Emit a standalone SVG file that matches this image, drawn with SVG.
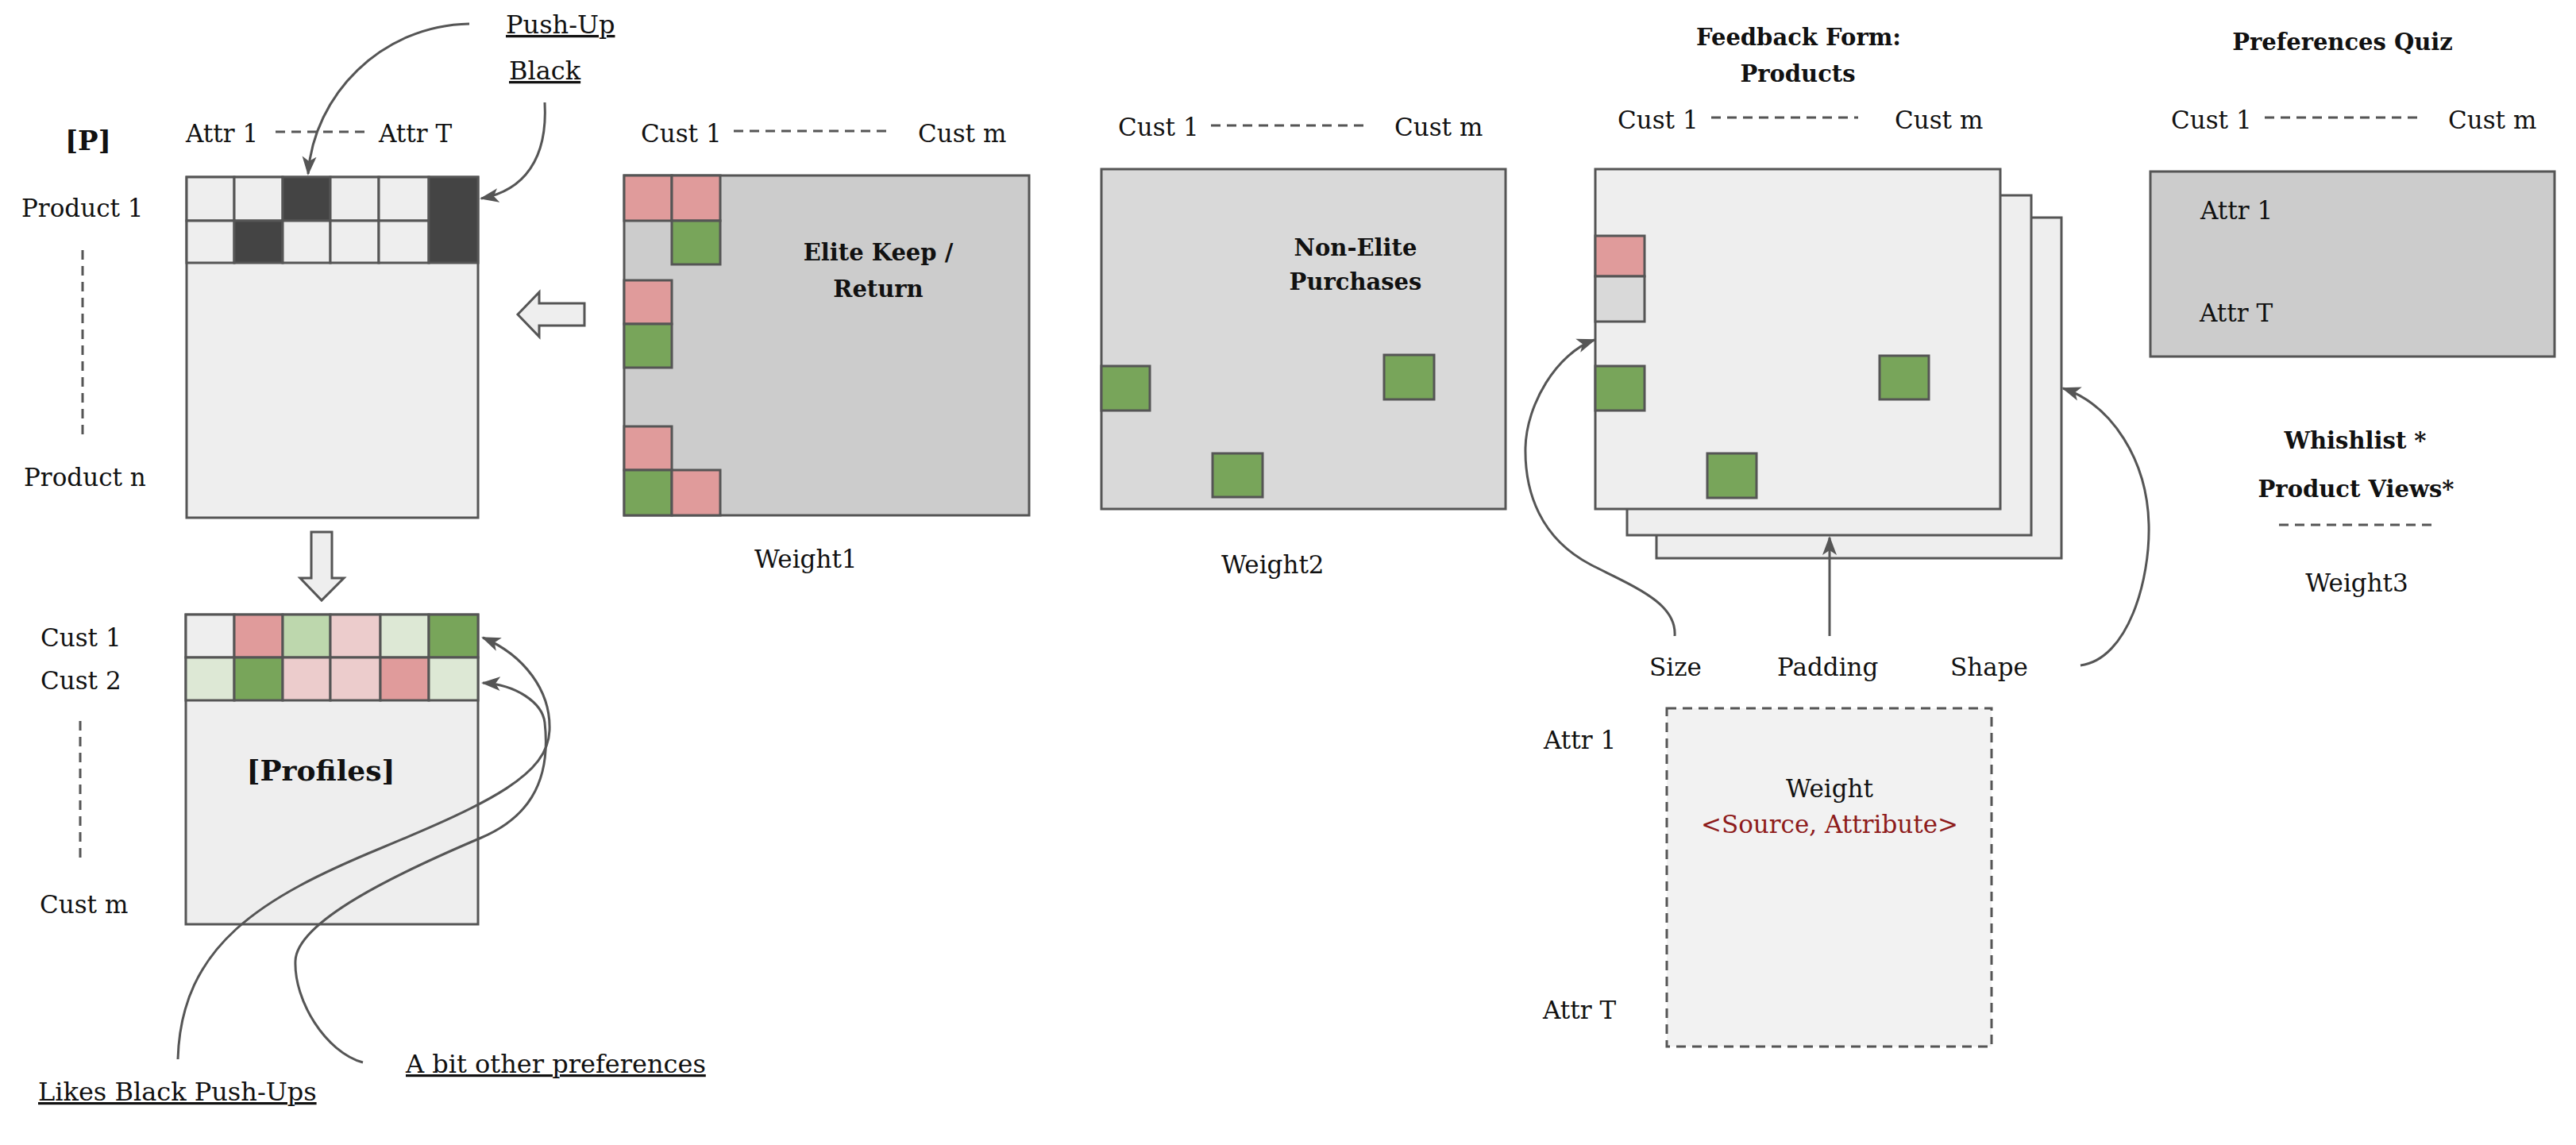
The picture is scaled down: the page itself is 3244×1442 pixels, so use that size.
<svg xmlns="http://www.w3.org/2000/svg" width="3244" height="1442" viewBox="0 0 3244 1442">
<defs>
<style>
text{font-family:"DejaVu Serif","Liberation Serif",serif;font-size:31px;fill:#111}
.b{font-weight:bold;font-size:29px}
.u{text-decoration:underline;font-size:32px}
.m{text-anchor:middle}
.box{stroke:#555;stroke-width:3}
.cell{stroke:#555;stroke-width:3}
.lt{fill:#eeeeee}
.dk{fill:#444444}
.rd{fill:#e09b9b}
.gn{fill:#78a55a}
.lg{fill:#bdd7ad}
.vg{fill:#dde8d5}
.pk{fill:#eccccc}
.gy{fill:#d9d9d9}
.dash{stroke:#555;stroke-width:3;stroke-dasharray:12 8;fill:none}
.con{stroke:#555;stroke-width:3;fill:none}
</style>
<marker id="ah" viewBox="0 0 24 20" refX="22" refY="10" markerWidth="24" markerHeight="20" orient="auto" markerUnits="userSpaceOnUse">
<path d="M0,1 L24,10 L0,19 L6,10 z" fill="#555"/>
</marker>
</defs>
<rect width="3244" height="1442" fill="#fff"/>

<g id="product-matrix">
<text class="b" x="82" y="189" style="font-size:34px">[P]</text>
<text x="234" y="179">Attr 1</text>
<line class="dash" x1="347" y1="166" x2="459" y2="166"/>
<text x="477" y="179">Attr T</text>
<text x="27" y="273">Product 1</text>
<line class="dash" x1="104" y1="315" x2="104" y2="547"/>
<text x="30" y="612">Product n</text>
<rect class="box lt" x="235" y="223" width="367" height="429"/>
<rect class="cell lt" x="235" y="223" width="60" height="55"/>
<rect class="cell lt" x="295" y="223" width="61" height="55"/>
<rect class="cell dk" x="356" y="223" width="60" height="55"/>
<rect class="cell lt" x="416" y="223" width="61" height="55"/>
<rect class="cell lt" x="477" y="223" width="63" height="55"/>
<rect class="cell lt" x="235" y="278" width="60" height="53"/>
<rect class="cell dk" x="295" y="278" width="61" height="53"/>
<rect class="cell lt" x="356" y="278" width="60" height="53"/>
<rect class="cell lt" x="416" y="278" width="61" height="53"/>
<rect class="cell lt" x="477" y="278" width="63" height="53"/>
<rect class="cell dk" x="540" y="223" width="62" height="108"/>
</g>

<g id="profiles-matrix">
<text x="51" y="814">Cust 1</text>
<text x="51" y="868">Cust 2</text>
<line class="dash" x1="101" y1="908" x2="101" y2="1086"/>
<text x="50" y="1150">Cust m</text>
<rect class="box lt" x="234" y="774" width="368" height="390"/>
<rect class="cell lt" x="234" y="774" width="61" height="54"/>
<rect class="cell rd" x="295" y="774" width="61" height="54"/>
<rect class="cell lg" x="356" y="774" width="60" height="54"/>
<rect class="cell pk" x="416" y="774" width="63" height="54"/>
<rect class="cell vg" x="479" y="774" width="61" height="54"/>
<rect class="cell gn" x="540" y="774" width="62" height="54"/>
<rect class="cell vg" x="234" y="828" width="61" height="54"/>
<rect class="cell gn" x="295" y="828" width="61" height="54"/>
<rect class="cell pk" x="356" y="828" width="60" height="54"/>
<rect class="cell pk" x="416" y="828" width="63" height="54"/>
<rect class="cell rd" x="479" y="828" width="61" height="54"/>
<rect class="cell vg" x="540" y="828" width="62" height="54"/>
<text class="b m" x="404" y="983" style="font-size:36px">[Profiles]</text>
</g>

<g id="weight1">
<text x="807" y="179">Cust 1</text>
<line class="dash" x1="924" y1="165" x2="1121" y2="165"/>
<text x="1156" y="179">Cust m</text>
<rect class="box" x="786" y="221" width="510" height="428" fill="#cccccc"/>
<rect class="cell rd" x="786" y="221" width="60" height="57"/>
<rect class="cell rd" x="846" y="221" width="61" height="57"/>
<rect class="cell gn" x="846" y="278" width="61" height="55"/>
<rect class="cell rd" x="786" y="353" width="60" height="55"/>
<rect class="cell gn" x="786" y="408" width="60" height="55"/>
<rect class="cell rd" x="786" y="537" width="60" height="55"/>
<rect class="cell gn" x="786" y="592" width="60" height="57"/>
<rect class="cell rd" x="846" y="592" width="61" height="57"/>
<text class="b m" x="1106" y="328">Elite Keep /</text>
<text class="b m" x="1106" y="374">Return</text>
<text x="950" y="715">Weight1</text>
</g>

<g id="weight2">
<text x="1408" y="171">Cust 1</text>
<line class="dash" x1="1525" y1="158" x2="1722" y2="158"/>
<text x="1756" y="171">Cust m</text>
<rect class="box gy" x="1387" y="213" width="509" height="428"/>
<rect class="cell gn" x="1387" y="461" width="61" height="56"/>
<rect class="cell gn" x="1743" y="447" width="63" height="56"/>
<rect class="cell gn" x="1527" y="571" width="63" height="55"/>
<text class="b m" x="1707" y="322">Non-Elite</text>
<text class="b m" x="1707" y="365">Purchases</text>
<text x="1538" y="722">Weight2</text>
</g>

<g id="feedback-form">
<text class="b m" x="2265" y="57">Feedback Form:</text>
<text class="b m" x="2264" y="103">Products</text>
<text x="2037" y="162">Cust 1</text>
<line class="dash" x1="2155" y1="148" x2="2340" y2="148"/>
<text x="2386" y="162">Cust m</text>
<rect class="box lt" x="2086" y="274" width="510" height="429"/>
<rect class="box lt" x="2049" y="246" width="509" height="428"/>
<rect class="box lt" x="2009" y="213" width="510" height="428"/>
<rect class="cell rd" x="2009" y="297" width="62" height="51"/>
<rect class="cell gy" x="2009" y="348" width="62" height="57"/>
<rect class="cell gn" x="2009" y="461" width="62" height="56"/>
<rect class="cell gn" x="2367" y="448" width="62" height="55"/>
<rect class="cell gn" x="2150" y="571" width="62" height="56"/>
<text x="2077" y="851">Size</text>
<text x="2238" y="851">Padding</text>
<text x="2456" y="851">Shape</text>
</g>

<g id="preferences-quiz">
<text class="b m" x="2950" y="63">Preferences Quiz</text>
<text x="2734" y="162">Cust 1</text>
<line class="dash" x1="2852" y1="148" x2="3050" y2="148"/>
<text x="3083" y="162">Cust m</text>
<rect class="box" x="2708" y="216" width="509" height="233" fill="#cccccc"/>
<text x="2771" y="276">Attr 1</text>
<text x="2770" y="405">Attr T</text>
</g>

<g id="weight3">
<text class="b m" x="2966" y="565">Whishlist *</text>
<text class="b m" x="2967" y="626">Product Views*</text>
<line class="dash" x1="2870" y1="661" x2="3064" y2="661"/>
<text class="m" x="2968" y="745">Weight3</text>
</g>

<g id="weight-source-attribute">
<rect x="2099" y="892" width="409" height="426" fill="#f2f2f2" stroke="#555" stroke-width="3" stroke-dasharray="12 8"/>
<text x="1944" y="943">Attr 1</text>
<text x="1943" y="1283">Attr T</text>
<text class="m" x="2304" y="1004">Weight</text>
<text class="m" x="2304" y="1049" style="fill:#8e1b1b">&lt;Source, Attribute&gt;</text>
</g>

<g id="labels">
<text class="u" x="637" y="42">Push-Up</text>
<text class="u" x="641" y="100">Black</text>
<text class="u" x="48" y="1386">Likes Black Push-Ups</text>
<text class="u" x="511" y="1351">A bit other preferences</text>
</g>

<g id="connectors">
<path class="con" d="M591,30 C480,32 395,120 388,219" marker-end="url(#ah)"/>
<path class="con" d="M686,129 C690,200 660,240 606,250" marker-end="url(#ah)"/>
<path d="M652,396 L679,368 L679,382 L736,382 L736,410 L679,410 L679,424 Z" fill="#eeeeee" stroke="#555" stroke-width="3" stroke-linejoin="miter"/>
<path d="M392,670 L418,670 L418,728 L433,728 L405,756 L378,728 L392,728 Z" fill="#eeeeee" stroke="#555" stroke-width="3"/>
<path class="con" d="M224,1334 C228,1190 330,1130 480,1068 C620,1010 690,975 692,920 C694,870 660,825 608,803" marker-end="url(#ah)"/>
<path class="con" d="M457,1338 C410,1325 370,1260 372,1210 C374,1160 500,1100 606,1055 C660,1032 695,990 686,910 C683,885 650,862 608,860" marker-end="url(#ah)"/>
<path class="con" d="M2109,801 C2112,760 2060,740 2003,711 C1940,678 1920,620 1921,564 C1922,510 1960,445 2008,428" marker-end="url(#ah)"/>
<path class="con" d="M2304,801 L2304,677" marker-end="url(#ah)"/>
<path class="con" d="M2620,838 C2680,830 2708,730 2706,660 C2704,580 2660,510 2598,489" marker-end="url(#ah)"/>
</g>
</svg>
